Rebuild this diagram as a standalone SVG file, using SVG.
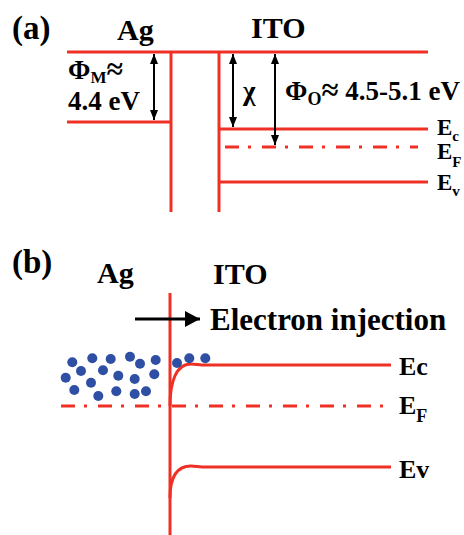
<svg xmlns="http://www.w3.org/2000/svg" width="464" height="535" viewBox="0 0 464 535">
<style>
text{font-family:"Liberation Serif","Times New Roman",serif;font-weight:bold;fill:#000}
.band{stroke:#ee3124;stroke-width:3;fill:none}
.fermi{stroke:#ee3124;stroke-width:3;fill:none;stroke-dasharray:14 9 3 11}
.arr{stroke:#000;stroke-width:2;fill:none}
.e{fill:#2e4fa3}
</style>
<defs>
<marker id="ah" viewBox="0 0 10 8" refX="10" refY="4" markerWidth="10" markerHeight="8" markerUnits="userSpaceOnUse" orient="auto-start-reverse"><path d="M0,0 L10,4 L0,8 z" fill="#000"/></marker>
<marker id="ahb" viewBox="0 0 15 16" refX="15" refY="8" markerWidth="15" markerHeight="16" markerUnits="userSpaceOnUse" orient="auto"><path d="M0,0 L15,8 L0,16 z" fill="#000"/></marker>
</defs>

<g id="panel-a">
<text x="12" y="39" font-size="33">(a)</text>
<text x="117" y="40" font-size="30">Ag</text>
<text x="251" y="38" font-size="30">ITO</text>
<g id="a-bands">
<line class="band" x1="67" y1="52" x2="428" y2="52"/>
<line class="band" x1="171" y1="52" x2="171" y2="212"/>
<line class="band" x1="67" y1="122" x2="171" y2="122"/>
<line class="band" x1="219" y1="52" x2="219" y2="212"/>
<line class="band" x1="219" y1="129" x2="428" y2="129"/>
<line class="fermi" x1="225" y1="147" x2="418" y2="147"/>
<line class="band" x1="219" y1="182" x2="428" y2="182"/>
</g>
<g id="a-arrows">
<line class="arr" x1="154" y1="54" x2="154" y2="120" marker-start="url(#ah)" marker-end="url(#ah)"/>
<line class="arr" x1="233" y1="54" x2="233" y2="127" marker-start="url(#ah)" marker-end="url(#ah)"/>
<line class="arr" x1="275" y1="54" x2="275" y2="145" marker-start="url(#ah)" marker-end="url(#ah)"/>
</g>
<text x="68" y="79" font-size="27">Φ<tspan font-size="17" dy="4">M</tspan><tspan dy="-4" font-size="30">≈</tspan></text>
<text x="68" y="110" font-size="27">4.4 eV</text>
<text x="243" y="100" font-size="27" font-weight="normal">χ</text>
<text x="285" y="100" font-size="27">Φ<tspan font-size="18" dy="5">O</tspan><tspan dy="-5" font-size="31">≈</tspan> 4.5-5.1 eV</text>
<text x="437" y="135" font-size="23">E<tspan font-size="15" dy="6">c</tspan></text>
<text x="437" y="159" font-size="23">E<tspan font-size="15" dy="8">F</tspan></text>
<text x="437" y="190" font-size="23">E<tspan font-size="15" dy="6">v</tspan></text>
</g>

<g id="panel-b">
<text x="12" y="273" font-size="33">(b)</text>
<text x="97" y="283" font-size="30">Ag</text>
<text x="213" y="284" font-size="30">ITO</text>
<g id="b-bands">
<line class="band" x1="170" y1="293" x2="170" y2="535"/>
<path class="band" d="M170,406 C170,382 176,364 191,364 C196,364 198,365 202,365 L391,365"/>
<line class="fermi" x1="61" y1="406" x2="385" y2="406"/>
<path class="band" d="M170,498 C170,478 176,466 191,466 C196,466 198,467 202,467 L391,467"/>
</g>
<g id="b-arrow">
<line class="arr" style="stroke-width:3" x1="135" y1="319" x2="200" y2="319" marker-end="url(#ahb)"/>
</g>
<text x="210" y="330" font-size="31">Electron injection</text>
<g id="electrons">
<circle class="e" cx="72.3" cy="362.3" r="5"/>
<circle class="e" cx="92.3" cy="358.3" r="5"/>
<circle class="e" cx="110.7" cy="359" r="5"/>
<circle class="e" cx="130" cy="356.7" r="5"/>
<circle class="e" cx="140" cy="363.7" r="5"/>
<circle class="e" cx="155.7" cy="360" r="5"/>
<circle class="e" cx="177" cy="363" r="5"/>
<circle class="e" cx="189.3" cy="358.3" r="5"/>
<circle class="e" cx="205.3" cy="358.3" r="5"/>
<circle class="e" cx="81" cy="371" r="5"/>
<circle class="e" cx="103" cy="370.3" r="5"/>
<circle class="e" cx="65.7" cy="377.7" r="5"/>
<circle class="e" cx="118.3" cy="375.7" r="5"/>
<circle class="e" cx="134.7" cy="379" r="5"/>
<circle class="e" cx="154.3" cy="374.3" r="5"/>
<circle class="e" cx="91" cy="382.7" r="5"/>
<circle class="e" cx="74.3" cy="390" r="5"/>
<circle class="e" cx="98.3" cy="396" r="5"/>
<circle class="e" cx="116.3" cy="391.3" r="5"/>
<circle class="e" cx="134.7" cy="394" r="5"/>
<circle class="e" cx="146" cy="391.3" r="5"/>
</g>
<text x="399" y="375" font-size="26">Ec</text>
<text x="399" y="414" font-size="26">E<tspan font-size="18" dy="8">F</tspan></text>
<text x="399" y="478" font-size="26">Ev</text>
</g>
</svg>
